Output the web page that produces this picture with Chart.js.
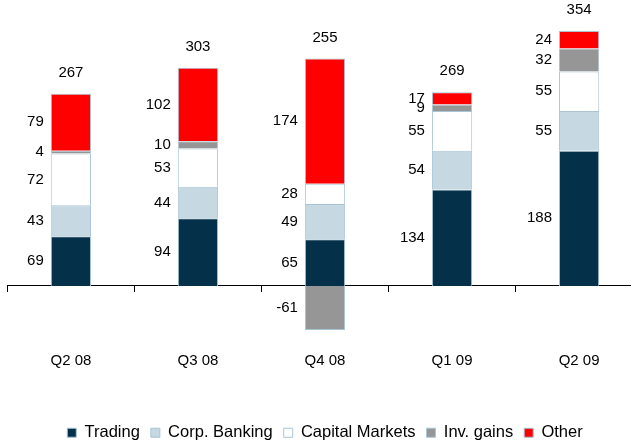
<!DOCTYPE html>
<html><head><meta charset="utf-8">
<script src="https://cdn.jsdelivr.net/npm/chart.js@4/dist/chart.umd.min.js"></script>
<style>
html,body{margin:0;padding:0;overflow:hidden;background:#fff;width:631px;height:445px;position:relative;}
#wrap{position:absolute;left:-8px;top:0;width:666px;height:445px;}
</style></head>
<body><div id="wrap"><canvas id="c" width="666" height="445"></canvas></div>
<script>
const categories = ["Q2 08", "Q3 08", "Q4 08", "Q1 09", "Q2 09"];
const trading = [69, 94, 65, 134, 188];
const corpBanking = [43, 44, 49, 54, 55];
const capitalMarkets = [72, 53, 28, 55, 55];
const invGains = [4, 10, -61, 9, 32];
const other = [79, 102, 174, 17, 24];
const totals = [267, 303, 255, 269, 354];

const FONT = "'Liberation Sans', Arial, sans-serif";
const edge = '#A9C4D4';

const labelPlugin = {
  id: 'labels',
  afterDatasetsDraw(chart) {
    const ctx = chart.ctx;
    ctx.save();
    ctx.font = '15px ' + FONT;
    ctx.fillStyle = '#000';
    ctx.textBaseline = 'middle';
    ctx.textAlign = 'right';
    const tops = [];
    chart.data.datasets.forEach((ds, i) => {
      const meta = chart.getDatasetMeta(i);
      meta.data.forEach((el, j) => {
        const v = ds.data[j];
        const left = el.x - el.width / 2;
        ctx.fillText(String(v), left - 7, (el.y + el.base) / 2);
        const t = Math.min(el.y, el.base);
        tops[j] = tops[j] === undefined ? t : Math.min(tops[j], t);
      });
    });
    ctx.textAlign = 'center';
    const meta0 = chart.getDatasetMeta(0);
    totals.forEach((t, j) => {
      ctx.fillText(String(t), meta0.data[j].x, tops[j] - 21);
    });
    ctx.restore();
  }
};

new Chart(document.getElementById('c'), {
  type: 'bar',
  data: {
    labels: categories,
    datasets: [
      {label: 'Trading', data: trading, backgroundColor: '#04304A', borderColor: edge},
      {label: 'Corp. Banking', data: corpBanking, backgroundColor: '#C6D8E2', borderColor: edge},
      {label: 'Capital Markets', data: capitalMarkets, backgroundColor: '#FFFFFF', borderColor: edge},
      {label: 'Inv. gains', data: invGains, backgroundColor: '#969696', borderColor: edge},
      {label: 'Other', data: other, backgroundColor: '#FF0000', borderColor: edge}
    ].map(d => Object.assign(d, {borderWidth: 1, barPercentage: 1, categoryPercentage: 0.317}))
  },
  options: {
    responsive: false,
    animation: false,
    layout: {padding: {left: 0, right: 0, top: 0, bottom: -6}},
    plugins: {
      tooltip: {enabled: false},
      legend: {
        position: 'bottom',
        labels: {
          font: {family: FONT, size: 16.5},
          color: '#000',
          boxWidth: 9,
          boxHeight: 9,
          padding: 11,
          useBorderRadius: false
        }
      }
    },
    scales: {
      x: {
        stacked: true,
        position: {y: 0},
        grid: {display: true, drawOnChartArea: false, drawTicks: true, tickLength: 6, color: '#000', offset: true},
        border: {display: true, color: '#000', width: 1},
        ticks: {font: {family: FONT, size: 15}, color: '#000', padding: 60}
      },
      y: {
        stacked: true,
        display: false,
        min: -177.1,
        max: 397.2
      }
    }
  },
  plugins: [labelPlugin]
});
</script></body></html>
